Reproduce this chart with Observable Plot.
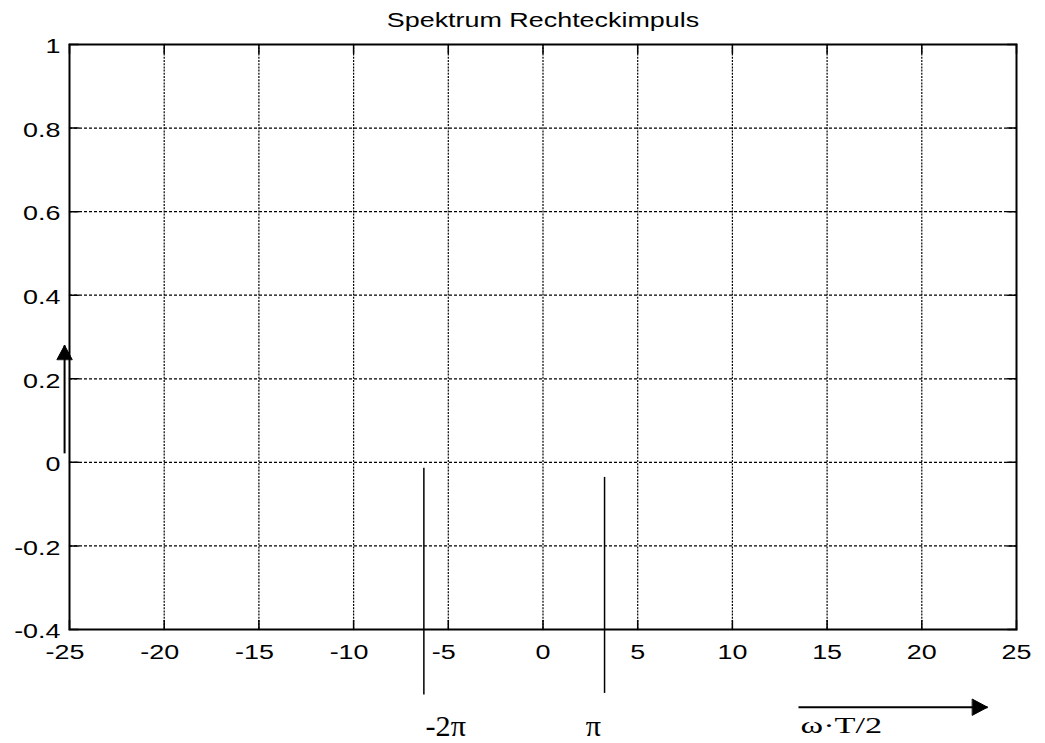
<!DOCTYPE html>
<html><head><meta charset="utf-8">
<script src="https://cdn.jsdelivr.net/npm/d3@7"></script>
<script src="https://cdn.jsdelivr.net/npm/@observablehq/plot@0.6"></script>
<style>body{margin:0;background:#fff}</style>
</head><body><div id="chart"></div>
<script>
const title = "Spektrum Rechteckimpuls";
const xTicks = [-25, -20, -15, -10, -5, 0, 5, 10, 15, 20, 25];
const xTickLabels = ["-25", "-20", "-15", "-10", "-5", "0", "5", "10", "15", "20", "25"];
const yTicks = [-0.4, -0.2, 0, 0.2, 0.4, 0.6, 0.8, 1];
const yTickLabels = ["-0.4", "-0.2", "0", "0.2", "0.4", "0.6", "0.8", "1"];
const xDomain = [-25, 25];
const yDomain = [-0.4, 1];
// annotation marker lines (data units)
const markerX = [-6.29, 3.25];
const markerY1 = [-0.014, -0.036];
const markerY2 = [-0.557, -0.553];
const markerLabels = ["-2π", "π"];
const markerLabelX = [-6.2, 2.26];
const markerLabelY = [-0.656, -0.656];
// axis arrows (data units)
const xArrow = [{x1: 13.49, x2: 23.47, y: -0.586}];
const yArrow = [{x: -25.26, y1: 0.0215, y2: 0.28}];
const xLabel = "ω·T/2";
const xLabelPos = [{x: 13.6, y: -0.6485}];

const sans = "Liberation Sans, Arial, Helvetica, sans-serif";
const serif = "Liberation Serif, Times New Roman, serif";

const tickShape = {draw(ctx, l) { ctx.moveTo(0, 0); ctx.lineTo(0, -l); }};
const headShape = (w) => ({draw(ctx, l) { ctx.moveTo(-w / 2, 0); ctx.lineTo(0, -l); ctx.lineTo(w / 2, 0); ctx.closePath(); }});

const xt = xTicks.map((v, i) => ({v, label: xTickLabels[i]}));
const yt = yTicks.map((v, i) => ({v, label: yTickLabels[i]}));
const markers = markerX.map((x, i) => ({x, y1: markerY1[i], y2: markerY2[i], label: markerLabels[i], lx: markerLabelX[i], ly: markerLabelY[i]}));
const inner = (arr, dom) => arr.filter(v => v > dom[0] && v < dom[1]);

const chart = Plot.plot({
  width: 1045,
  height: 743,
  marginLeft: 69,
  marginRight: 29,
  marginTop: 44,
  marginBottom: 114,
  x: {domain: xDomain, axis: null},
  y: {domain: yDomain, axis: null},
  style: {background: "#fff"},
  marks: [
    Plot.gridX(inner(xTicks, xDomain), {stroke: "#000", strokeOpacity: 1, strokeWidth: 1.2, strokeDasharray: "2,1.2"}),
    Plot.gridY(inner(yTicks, yDomain), {stroke: "#000", strokeOpacity: 1, strokeWidth: 1.2, strokeDasharray: "3,2"}),
    Plot.vector(xt, {x: "v", frameAnchor: "bottom", length: 9, rotate: 0, anchor: "start", shape: tickShape, stroke: "#000", strokeWidth: 1.5}),
    Plot.vector(xt, {x: "v", frameAnchor: "top", length: 9, rotate: 180, anchor: "start", shape: tickShape, stroke: "#000", strokeWidth: 1.5}),
    Plot.vector(yt, {y: "v", frameAnchor: "left", length: 9, rotate: 90, anchor: "start", shape: tickShape, stroke: "#000", strokeWidth: 1.5}),
    Plot.vector(yt, {y: "v", frameAnchor: "right", length: 9, rotate: -90, anchor: "start", shape: tickShape, stroke: "#000", strokeWidth: 1.5}),
    Plot.frame({stroke: "#000", strokeWidth: 2}),
    // tick labels
    Plot.text(xt.filter(d => d.v < 0), {x: "v", text: "label", frameAnchor: "bottom", lineAnchor: "bottom", dy: 29, dx: -4.5, fontSize: 19.5, fontFamily: sans, fill: "#000"}),
    Plot.text(xt.filter(d => d.v >= 0), {x: "v", text: "label", frameAnchor: "bottom", lineAnchor: "bottom", dy: 29, fontSize: 19.5, fontFamily: sans, fill: "#000"}),
    Plot.text(yt, {y: "v", text: "label", frameAnchor: "left", textAnchor: "end", lineAnchor: "middle", dx: -9, dy: 2.5, fontSize: 19.5, fontFamily: sans, fill: "#000"}),
    // title
    Plot.text([title], {frameAnchor: "top", lineAnchor: "bottom", dy: -18, fontSize: 19.5, fontFamily: sans, fill: "#000"}),
    // marker lines and labels
    Plot.ruleX(markers, {x: "x", y1: "y1", y2: "y2", stroke: "#000", strokeWidth: 1.5}),
    Plot.text(markers, {x: "lx", y: "ly", text: "label", textAnchor: "start", lineAnchor: "bottom", fontSize: 29, fontFamily: serif, fill: "#000"}),
    // y arrow
    Plot.link(yArrow, {x1: "x", x2: "x", y1: "y1", y2: "y2", stroke: "#000", strokeWidth: 2}),
    Plot.vector(yArrow, {x: "x", y: "y2", anchor: "end", length: 14, rotate: 0, shape: headShape(15), fill: "#000", stroke: "#000", strokeWidth: 1}),
    // x arrow
    Plot.link(xArrow, {x1: "x1", x2: "x2", y1: "y", y2: "y", stroke: "#000", strokeWidth: 2}),
    Plot.vector(xArrow, {x: "x2", y: "y", anchor: "end", length: 15, rotate: 90, shape: headShape(16), fill: "#000", stroke: "#000", strokeWidth: 1}),
    Plot.text(xLabelPos, {x: "x", y: "y", text: () => xLabel, textAnchor: "start", lineAnchor: "bottom", fontSize: 23.5, fontFamily: serif, fill: "#000"})
  ]
});
document.getElementById("chart").appendChild(chart);

// the reference's lettering is horizontally stretched; reproduce that
chart.querySelectorAll("text").forEach(t => {
  const s = t.textContent === xLabel ? 1.46 : markerLabels.includes(t.textContent) ? 1.04 : 1.38;
  const tr = t.getAttribute("transform") || "";
  t.setAttribute("transform", `${tr} scale(${s},1)`);
});
</script>
</body></html>
